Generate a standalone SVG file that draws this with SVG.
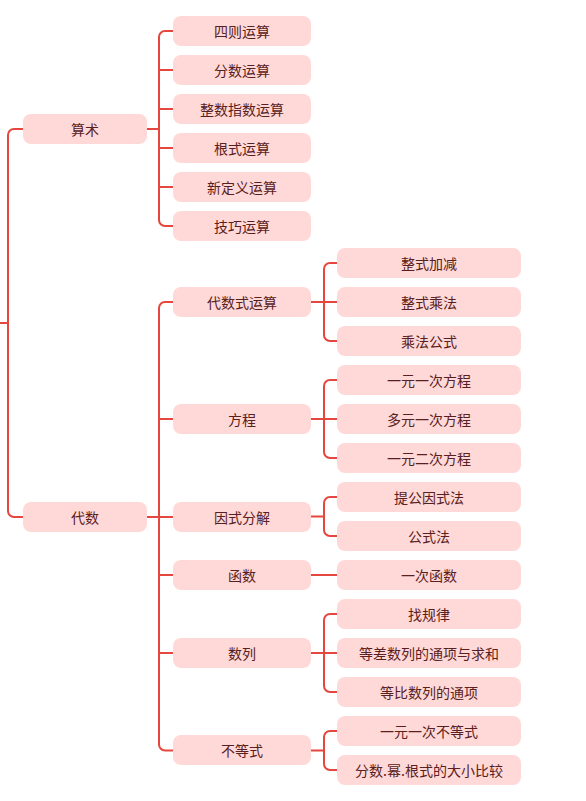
<svg xmlns="http://www.w3.org/2000/svg" width="586" height="801" viewBox="0 0 586 801">
<style>
.n rect{fill:#ffd9d8;}
.n text{font-family:"Noto Sans CJK SC","Noto Sans",sans-serif;font-size:14px;fill:#5a2020;text-anchor:middle;dominant-baseline:central;}
.c path{fill:none;stroke:#e5463d;stroke-width:2;}
</style>
<rect width="586" height="801" fill="#ffffff"/>
<g class="c" id="connectors">
<path d="M0,323 H8"/>
<path d="M23,129 H14 A6,6 0 0 0 8,135 V511 A6,6 0 0 0 14,517 H23"/>
<path d="M147,129 H159"/>
<path d="M173,31 H165 A6,6 0 0 0 159,37 V220 A6,6 0 0 0 165,226 H173"/>
<path d="M159,70 H173 M159,109 H173 M159,148 H173 M159,187 H173"/>
<path d="M147,517 H173"/>
<path d="M173,302 H165 A6,6 0 0 0 159,308 V744.5 A6,6 0 0 0 165,750.5 H173"/>
<path d="M159,419 H173 M159,575 H173 M159,653 H173"/>
<path d="M311,302 H337"/>
<path d="M337,263 H330 A6,6 0 0 0 324,269 V335 A6,6 0 0 0 330,341 H337"/>
<path d="M311,419 H337"/>
<path d="M337,380 H330 A6,6 0 0 0 324,386 V452 A6,6 0 0 0 330,458 H337"/>
<path d="M311,516.5 H324"/>
<path d="M337,497 H330 A6,6 0 0 0 324,503 V530 A6,6 0 0 0 330,536 H337"/>
<path d="M311,575 H337"/>
<path d="M311,653 H337"/>
<path d="M337,614 H330 A6,6 0 0 0 324,620 V686 A6,6 0 0 0 330,692 H337"/>
<path d="M311,750.5 H324"/>
<path d="M337,731 H330 A6,6 0 0 0 324,737 V764 A6,6 0 0 0 330,770 H337"/>
</g>
<g class="n" id="n-suanshu"><rect x="23" y="114" width="124" height="30" rx="8"/><text x="85" y="129">算术</text></g>
<g class="n" id="n-daishu"><rect x="23" y="502" width="124" height="30" rx="8"/><text x="85" y="517">代数</text></g>
<g class="n" id="n-sizeyunsuan"><rect x="173" y="16" width="138" height="30" rx="8"/><text x="242" y="31">四则运算</text></g>
<g class="n" id="n-fenshuyunsuan"><rect x="173" y="55" width="138" height="30" rx="8"/><text x="242" y="70">分数运算</text></g>
<g class="n" id="n-zhengshuzhishu"><rect x="173" y="94" width="138" height="30" rx="8"/><text x="242" y="109">整数指数运算</text></g>
<g class="n" id="n-genshiyunsuan"><rect x="173" y="133" width="138" height="30" rx="8"/><text x="242" y="148">根式运算</text></g>
<g class="n" id="n-xindingyi"><rect x="173" y="172" width="138" height="30" rx="8"/><text x="242" y="187">新定义运算</text></g>
<g class="n" id="n-jiqiao"><rect x="173" y="211" width="138" height="30" rx="8"/><text x="242" y="226">技巧运算</text></g>
<g class="n" id="n-daishushi"><rect x="173" y="287" width="138" height="30" rx="8"/><text x="242" y="302">代数式运算</text></g>
<g class="n" id="n-fangcheng"><rect x="173" y="404" width="138" height="30" rx="8"/><text x="242" y="419">方程</text></g>
<g class="n" id="n-yinshifenjie"><rect x="173" y="502" width="138" height="30" rx="8"/><text x="242" y="517">因式分解</text></g>
<g class="n" id="n-hanshu"><rect x="173" y="560" width="138" height="30" rx="8"/><text x="242" y="575">函数</text></g>
<g class="n" id="n-shulie"><rect x="173" y="638" width="138" height="30" rx="8"/><text x="242" y="653">数列</text></g>
<g class="n" id="n-budengshi"><rect x="173" y="735" width="138" height="30" rx="8"/><text x="242" y="750">不等式</text></g>
<g class="n" id="n-zhengshijiajian"><rect x="337" y="248" width="184" height="30" rx="8"/><text x="429" y="263">整式加减</text></g>
<g class="n" id="n-zhengshichengfa"><rect x="337" y="287" width="184" height="30" rx="8"/><text x="429" y="302">整式乘法</text></g>
<g class="n" id="n-chengfagongshi"><rect x="337" y="326" width="184" height="30" rx="8"/><text x="429" y="341">乘法公式</text></g>
<g class="n" id="n-yiyuanyici"><rect x="337" y="365" width="184" height="30" rx="8"/><text x="429" y="380">一元一次方程</text></g>
<g class="n" id="n-duoyuanyici"><rect x="337" y="404" width="184" height="30" rx="8"/><text x="429" y="419">多元一次方程</text></g>
<g class="n" id="n-yiyuanerci"><rect x="337" y="443" width="184" height="30" rx="8"/><text x="429" y="458">一元二次方程</text></g>
<g class="n" id="n-tigongyinshi"><rect x="337" y="482" width="184" height="30" rx="8"/><text x="429" y="497">提公因式法</text></g>
<g class="n" id="n-gongshifa"><rect x="337" y="521" width="184" height="30" rx="8"/><text x="429" y="536">公式法</text></g>
<g class="n" id="n-yicihanshu"><rect x="337" y="560" width="184" height="30" rx="8"/><text x="429" y="575">一次函数</text></g>
<g class="n" id="n-zhaoguilv"><rect x="337" y="599" width="184" height="30" rx="8"/><text x="429" y="614">找规律</text></g>
<g class="n" id="n-dengcha"><rect x="337" y="638" width="184" height="30" rx="8"/><text x="429" y="653">等差数列的通项与求和</text></g>
<g class="n" id="n-dengbi"><rect x="337" y="677" width="184" height="30" rx="8"/><text x="429" y="692">等比数列的通项</text></g>
<g class="n" id="n-yiyuanyicibudengshi"><rect x="337" y="716" width="184" height="30" rx="8"/><text x="429" y="731">一元一次不等式</text></g>
<g class="n" id="n-fenshumi"><rect x="337" y="755" width="184" height="30" rx="8"/><text x="429" y="770">分数.幂.根式的大小比较</text></g>
</svg>
